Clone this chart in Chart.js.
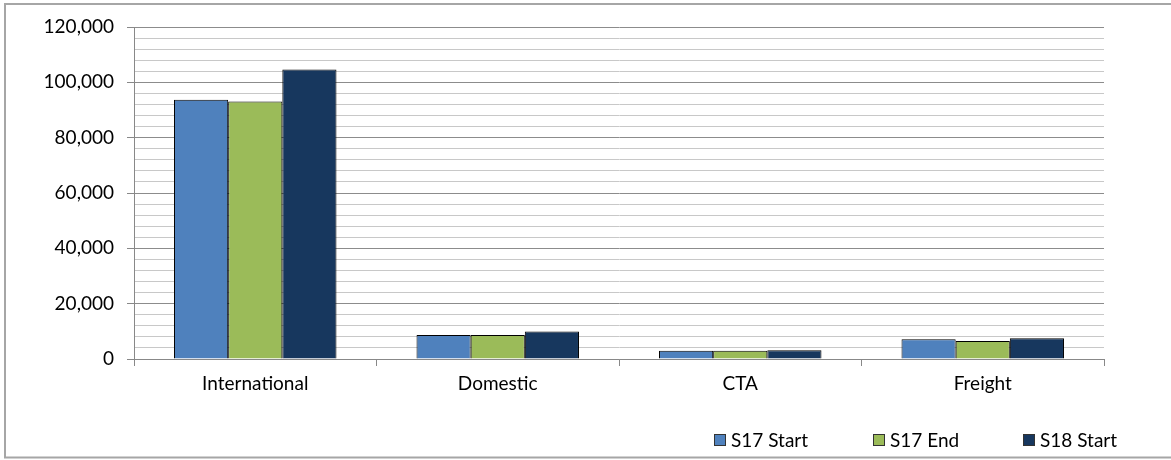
<!DOCTYPE html>
<html>
<head>
<meta charset="utf-8">
<script src="https://cdn.jsdelivr.net/npm/chart.js@4"></script>
<style>
  html, body { margin: 0; padding: 0; background: #fff; }
  #wrap { position: relative; width: 1171px; height: 460px; }
</style>
</head>
<body>
<div id="wrap"><canvas id="chart" width="1171" height="460"></canvas></div>
<script>
// Data
const categories = ['International', 'Domestic', 'CTA', 'Freight'];
const s17Start = [93700, 8700, 3000, 7100];
const s17End = [93100, 8700, 3000, 6500];
const s18Start = [104600, 9900, 3200, 7500];
const seriesNames = ['S17 Start', 'S17 End', 'S18 Start'];
const seriesColours = ['#4F81BD', '#9BBB59', '#17375E'];
const yMax = 120000;
const yStep = 4000;

const FONT = 'Lato, "Open Sans", "Liberation Sans", sans-serif';

// Outer frame of the chart object
const framePlugin = {
    id: 'frame',
    afterDraw(chart) {
        const ctx = chart.ctx;
        ctx.save();
        ctx.strokeStyle = '#A6A6A6';
        ctx.lineWidth = 2;
        ctx.beginPath();
        ctx.moveTo(1171, 4);
        ctx.lineTo(5, 4);
        ctx.lineTo(5, 457.5);
        ctx.lineTo(1171, 457.5);
        ctx.stroke();
        ctx.restore();
    }
};

// Legend drawn by hand so it can sit at the bottom right like the original
const legendPlugin = {
    id: 'bottomLegend',
    afterDraw(chart) {
        const ctx = chart.ctx;
        const starts = [714, 873, 1023];
        ctx.save();
        ctx.font = '19px ' + FONT;
        ctx.textBaseline = 'middle';
        ctx.fillStyle = '#000';
        chart.data.datasets.forEach((ds, i) => {
            const x = starts[i];
            ctx.fillStyle = ds.backgroundColor;
            ctx.fillRect(x, 434, 12, 12);
            ctx.strokeStyle = '#333';
            ctx.lineWidth = 1;
            ctx.strokeRect(x + 0.5, 434.5, 11, 11);
            ctx.fillStyle = '#000';
            ctx.fillText(ds.label, x + 17, 440.5);
        });
        ctx.restore();
    }
};

const datasets = [s17Start, s17End, s18Start].map((values, i) => ({
    label: seriesNames[i],
    data: values,
    backgroundColor: seriesColours[i],
    borderColor: '#000',
    borderWidth: 1,
    borderSkipped: 'bottom'
}));

new Chart(document.getElementById('chart'), {
    type: 'bar',
    data: { labels: categories, datasets },
    options: {
        responsive: false,
        animation: false,
        layout: { padding: { top: 27, right: 67, bottom: 61, left: 0 } },
        datasets: {
            bar: { categoryPercentage: 0.67, barPercentage: 1 }
        },
        plugins: {
            legend: { display: false },
            tooltip: { enabled: false },
            title: { display: false }
        },
        scales: {
            x: {
                afterFit(scale) { scale.height = 40; },
                grid: {
                    offset: true,
                    drawOnChartArea: false,
                    drawTicks: true,
                    tickLength: 7,
                    tickColor: '#888'
                },
                border: { color: '#888', width: 1 },
                ticks: {
                    color: '#000',
                    padding: 6,
                    font: { family: FONT, size: 19 }
                }
            },
            y: {
                min: 0,
                max: yMax,
                afterFit(scale) { scale.width = 134; },
                grid: {
                    color: ctx => (ctx.tick && ctx.tick.value % 20000 === 0) ? '#8C8C8C' : '#C8C8C8',
                    tickColor: ctx => (ctx.tick && ctx.tick.value % 20000 === 0) ? '#888' : 'rgba(0,0,0,0)',
                    tickLength: 7,
                    lineWidth: 1
                },
                border: { color: '#888', width: 1 },
                ticks: {
                    stepSize: yStep,
                    autoSkip: false,
                    color: '#000',
                    padding: 13,
                    font: { family: FONT, size: 19 },
                    callback: v => v % 20000 === 0 ? v.toLocaleString('en-US') : ''
                }
            }
        }
    },
    plugins: [framePlugin, legendPlugin]
});
</script>
</body>
</html>
